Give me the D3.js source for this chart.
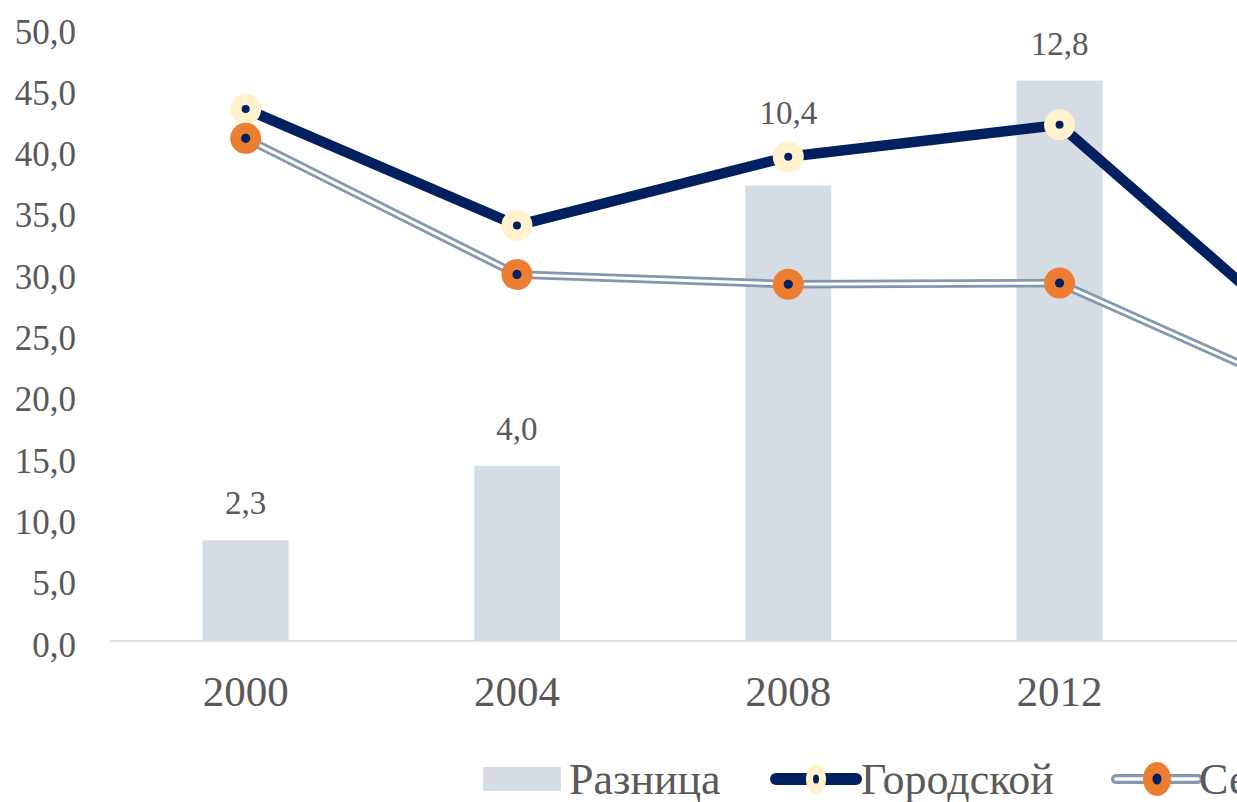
<!DOCTYPE html>
<html>
<head>
<meta charset="utf-8">
<script src="https://cdn.jsdelivr.net/npm/d3@7"></script>
<style>
  html, body { margin: 0; padding: 0; background: #fff; overflow: hidden; }
  svg { display: block; overflow: hidden; }
</style>
</head>
<body>
<div id="chart"></div>
<script>
// data
const YEARS = ['2000', '2004', '2008', '2012', '2016'];
const RAZNITSA = [2.3, 4.0, 10.4, 12.8, 3.5];      // bars, right (hidden) axis
const GORODSKOY = [43.4, 33.9, 39.5, 42.1, 22.8];  // urban line
const SELSKIY = [41.0, 29.9, 29.1, 29.2, 19.3];    // rural line
const Y_TICKS = [0, 5, 10, 15, 20, 25, 30, 35, 40, 45, 50];
const SERIES_NAMES = ['Разница', 'Городской', 'Сельский'];
// extra lift for data labels (2008 label sits above the marker)
const LABEL_LIFT = [0, 0, 36, 0, 0];

var width = 1237,
    height = 802;
const FONT = '"Liberation Serif", "Times New Roman", serif';
const TEXT = '#595959';
const NAVY = '#002060';

const ru = d3.formatLocale({decimal: ',', thousands: ' ', grouping: [3], currency: ['', ' ₽']});
const fmt = ru.format('.1f');

const svg = d3.select('#chart')
  .append('svg')
    .attr('width', width)
    .attr('height', height);

// scales
const x = d3.scaleBand()
  .domain(YEARS)
  .range([110, 110 + YEARS.length * 271.3]);
const y = d3.scaleLinear().domain([0, 50]).range([641, 28]);
const y2 = d3.scaleLinear().domain([0, 14]).range([641, 28]);
const cx = d => x(d) + x.bandwidth() / 2;
const barW = x.bandwidth() * 0.317;
// categories whose centre falls inside the visible page (the chart is cut at the right)
const visible = d => cx(d) < width;

// y axis labels
const yAxis = svg.append('g')
  .attr('transform', 'translate(76,0)')
  .call(d3.axisLeft(y).tickValues(Y_TICKS).tickFormat(fmt).tickSize(0).tickPadding(0));
yAxis.select('.domain').remove();
yAxis.selectAll('text')
  .attr('dy', '0.43em')
  .attr('fill', TEXT)
  .style('font-family', FONT)
  .style('font-size', '35px');

// bars
svg.selectAll('rect.bar')
  .data(YEARS)
  .enter()
  .append('rect')
  .attr('class', 'bar')
  .attr('x', d => cx(d) - barW / 2)
  .attr('width', barW)
  .attr('y', (d, i) => y2(RAZNITSA[i]))
  .attr('height', (d, i) => y2(0) - y2(RAZNITSA[i]))
  .attr('fill', '#D6DCE4');

// category axis
const xAxis = svg.append('g')
  .attr('transform', 'translate(0,' + y(0) + ')')
  .call(d3.axisBottom(x).tickValues(YEARS.filter(visible)).tickSize(0).tickPadding(34));
xAxis.select('.domain')
  .attr('stroke', '#D9D9D9')
  .attr('stroke-width', 1.5)
  .attr('d', 'M' + x.range()[0] + ',0H' + x.range()[1]);
xAxis.selectAll('text')
  .attr('fill', TEXT)
  .style('font-family', FONT)
  .style('font-size', '43px');

// bar data labels
svg.selectAll('text.blabel')
  .data(YEARS.filter(visible))
  .enter()
  .append('text')
  .attr('class', 'blabel')
  .attr('x', d => cx(d))
  .attr('y', (d, i) => y2(RAZNITSA[i]) - 26 - LABEL_LIFT[i])
  .attr('text-anchor', 'middle')
  .attr('fill', TEXT)
  .style('font-family', FONT)
  .style('font-size', '33px')
  .text((d, i) => fmt(RAZNITSA[i]));

const line = d3.line()
  .x((d, i) => cx(YEARS[i]))
  .y(d => y(d));

// urban line
svg.append('path')
  .datum(GORODSKOY)
  .attr('d', line)
  .attr('fill', 'none')
  .attr('stroke', NAVY)
  .attr('stroke-width', 10.5)
  .attr('stroke-linejoin', 'round');
const gMarks = svg.append('g').selectAll('g')
  .data(GORODSKOY)
  .enter()
  .append('g')
  .attr('transform', (d, i) => 'translate(' + cx(YEARS[i]) + ',' + y(d) + ')');
gMarks.append('circle').attr('r', 15.5).attr('fill', '#FFF2CC');
gMarks.append('circle').attr('r', 4).attr('fill', NAVY);

// rural line (compound double line)
svg.append('path')
  .datum(SELSKIY)
  .attr('d', line)
  .attr('fill', 'none')
  .attr('stroke', '#8497B0')
  .attr('stroke-width', 8.5)
  .attr('stroke-linejoin', 'round');
svg.append('path')
  .datum(SELSKIY)
  .attr('d', line)
  .attr('fill', 'none')
  .attr('stroke', '#fff')
  .attr('stroke-width', 3)
  .attr('stroke-linejoin', 'round');
const sMarks = svg.append('g').selectAll('g')
  .data(SELSKIY)
  .enter()
  .append('g')
  .attr('transform', (d, i) => 'translate(' + cx(YEARS[i]) + ',' + y(d) + ')');
sMarks.append('circle').attr('r', 15.5).attr('fill', '#ED7D31');
sMarks.append('circle').attr('r', 4.6).attr('fill', NAVY);

// legend
const legend = svg.append('g').attr('transform', 'translate(0,779)');
legend.append('rect')
  .attr('x', 483).attr('y', -12).attr('width', 78).attr('height', 24)
  .attr('fill', '#D6DCE4');
legend.append('line')
  .attr('x1', 776).attr('x2', 856)
  .attr('stroke', NAVY).attr('stroke-width', 12).attr('stroke-linecap', 'round');
legend.append('ellipse').attr('cx', 816).attr('rx', 10).attr('ry', 15).attr('fill', '#FFF2CC');
legend.append('ellipse').attr('cx', 816).attr('rx', 3).attr('ry', 4.5).attr('fill', NAVY);
legend.append('line')
  .attr('x1', 1116).attr('x2', 1198)
  .attr('stroke', '#8497B0').attr('stroke-width', 10).attr('stroke-linecap', 'round');
legend.append('line')
  .attr('x1', 1116).attr('x2', 1198)
  .attr('stroke', '#fff').attr('stroke-width', 3.5).attr('stroke-linecap', 'round');
legend.append('ellipse').attr('cx', 1157).attr('rx', 14).attr('ry', 17).attr('fill', '#ED7D31');
legend.append('ellipse').attr('cx', 1157).attr('rx', 4.5).attr('ry', 5.5).attr('fill', NAVY);

const legendX = [569, 861, 1199];
legend.selectAll('text')
  .data(SERIES_NAMES)
  .enter()
  .append('text')
  .attr('x', (d, i) => legendX[i])
  .attr('y', 15)
  .attr('fill', TEXT)
  .style('font-family', FONT)
  .style('font-size', '44px')
  .text(d => d);
</script>
</body>
</html>
